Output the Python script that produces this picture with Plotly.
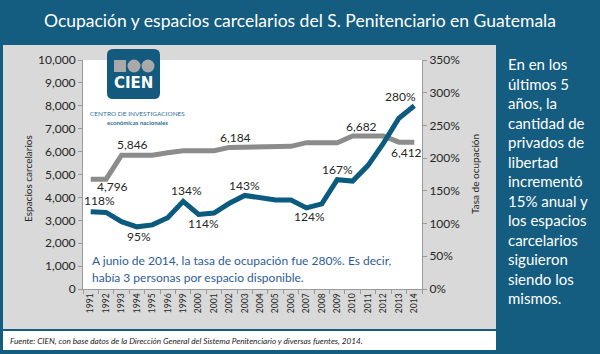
import plotly.graph_objects as go

# ---------------- data ----------------
years = ["1991", "1992", "1993", "1994", "1995", "1996", "1999", "2000", "2001", "2002", "2003",
         "2004", "2005", "2006", "2007", "2008", "2009", "2010", "2011", "2012", "2013", "2014"]
espacios = [4796, 4796, 5846, 5846, 5846, 5950, 6040, 6040, 6040, 6184, 6184,
            6184, 6184, 6230, 6390, 6390, 6390, 6682, 6682, 6682, 6412, 6412]
tasa = [118, 117, 103, 95, 98, 109, 134, 114, 116, 131, 143,
        140, 136, 136, 124, 130, 167, 165, 189, 223, 261, 280]

left_ticks = list(range(0, 10001, 1000))
right_ticks = list(range(0, 351, 50))
right_ticktext = [f"{v}%" for v in right_ticks]

# labelled points: (index, xshift, yshift)
esp_labels = [(1, 6, -7), (2, 11, 11), (9, 6, 10), (17, 9, 9), (21, -8, -10)]
tasa_labels = [(0, 9, 11), (3, 2, -10), (6, 3, 11), (7, 5, -9), (10, 0, 10),
               (14, 3, -9), (16, 0, 10), (21, -14, 9)]

title_text = "Ocupación y espacios carcelarios del S. Penitenciario en Guatemala"
side_lines = ["En en los", "últimos 5", "años, la", "cantidad de", "privados de", "libertad",
              "incrementó", "15% anual y", "los espacios", "carcelarios", "siguieron",
              "siendo los", "mismos."]
note_lines = ["A junio de 2014, la tasa de ocupación fue 280%. Es decir,",
              "había 3 personas por espacio disponible."]
footer_text = ("Fuente: CIEN, con base datos de la Dirección General del Sistema "
               "Penitenciario y diversas fuentes, 2014.")

# ---------------- geometry helpers ----------------
W, H = 600, 354
L, R, T, B = 83, 422, 60, 289


def fx(px):
    return (px - L) / (R - L)


def fy(py):
    return (B - py) / (B - T)


BG_BLUE = "#145c80"
LINE_BLUE = "#0b5a80"
GRAY_LINE = "#8c8c8c"
TXT = "#262626"
FONT = "Lato"

idx = list(range(len(years)))

fig = go.Figure()
fig.add_trace(go.Scatter(x=years, y=espacios, mode="lines", yaxis="y",
                         line=dict(color=GRAY_LINE, width=5), hoverinfo="skip",
                         showlegend=False))
fig.add_trace(go.Scatter(x=years, y=tasa, mode="lines", yaxis="y2",
                         line=dict(color=LINE_BLUE, width=5), hoverinfo="skip",
                         showlegend=False))

shapes = []
# gray panel, white plot area, white footer
shapes.append(dict(type="rect", xref="paper", yref="paper", x0=fx(3), x1=fx(496),
                   y0=fy(329), y1=fy(45), fillcolor="#d9d9d9", line=dict(width=0), layer="below"))
shapes.append(dict(type="rect", xref="paper", yref="paper", x0=0, x1=1, y0=0, y1=1,
                   fillcolor="white", line=dict(width=0), layer="below"))
shapes.append(dict(type="rect", xref="paper", yref="paper", x0=fx(3), x1=fx(496),
                   y0=fy(350), y1=fy(331), fillcolor="white", line=dict(width=0), layer="below"))

# logo: rounded rectangle
x0, x1, y0, y1, r = 107, 160, 49, 99, 6
path = (f"M {fx(x0+r)},{fy(y0)} L {fx(x1-r)},{fy(y0)} Q {fx(x1)},{fy(y0)} {fx(x1)},{fy(y0+r)} "
        f"L {fx(x1)},{fy(y1-r)} Q {fx(x1)},{fy(y1)} {fx(x1-r)},{fy(y1)} "
        f"L {fx(x0+r)},{fy(y1)} Q {fx(x0)},{fy(y1)} {fx(x0)},{fy(y1-r)} "
        f"L {fx(x0)},{fy(y0+r)} Q {fx(x0)},{fy(y0)} {fx(x0+r)},{fy(y0)} Z")
shapes.append(dict(type="path", xref="paper", yref="paper", path=path,
                   fillcolor="#135a7e", line=dict(width=0), layer="above"))
shapes.append(dict(type="rect", xref="paper", yref="paper", x0=fx(114), x1=fx(126),
                   y0=fy(72), y1=fy(60), fillcolor="#a9a9a9", line=dict(width=0), layer="above"))
for cx in (134, 148):
    shapes.append(dict(type="circle", xref="paper", yref="paper", x0=fx(cx-6.5), x1=fx(cx+6.5),
                       y0=fy(72.5), y1=fy(59.5), fillcolor="#a9a9a9", line=dict(width=0),
                       layer="above"))

ann = []


def add_text(px, py, text, size, color, xanchor="center", angle=0, family=FONT, align="center"):
    ann.append(dict(xref="paper", yref="paper", x=fx(px), y=fy(py), text=text,
                    showarrow=False, xanchor=xanchor, yanchor="middle", textangle=angle,
                    align=align, font=dict(family=family, size=size, color=color)))


add_text(300, 20, title_text, 17.5, "white")
add_text(506, 181, "<br>".join(side_lines), 15, "white", xanchor="left", align="left")
add_text(28, 178, "Espacios carcelarios", 10, TXT, angle=-90)
add_text(475, 174, "Tasa de ocupación", 10, TXT, angle=-90)
add_text(90, 260, note_lines[0], 12, "#2e5c9a", xanchor="left")
add_text(90, 277, note_lines[1], 12, "#2e5c9a", xanchor="left")
add_text(8, 341, "<i>" + footer_text + "</i>", 8.2, "#1a1a1a", xanchor="left")
add_text(133, 83, "<b>CIEN</b>", 15, "white", family="DejaVu Sans")
add_text(137, 113, "CENTRO DE INVESTIGACIONES", 6.5, "#2c6e9a")
add_text(137, 122, "<b>económicas nacionales</b>", 6, "#2c6e9a")

# data labels (x given as category index on the category axis)
for i, xs, ys in esp_labels:
    ann.append(dict(xref="x", yref="y", x=idx[i], y=espacios[i], text=f"{espacios[i]:,}",
                    showarrow=False, xshift=xs, yshift=ys, xanchor="center", yanchor="middle",
                    font=dict(family=FONT, size=12, color=TXT)))
for i, xs, ys in tasa_labels:
    ann.append(dict(xref="x", yref="y2", x=idx[i], y=tasa[i], text=f"{tasa[i]}%",
                    showarrow=False, xshift=xs, yshift=ys, xanchor="center", yanchor="middle",
                    font=dict(family=FONT, size=12, color=TXT)))

axis_line = "#9a9a9a"
fig.update_layout(
    width=W, height=H, autosize=False,
    margin=dict(l=L, r=W - R, t=T, b=H - B, pad=0),
    paper_bgcolor=BG_BLUE, plot_bgcolor="rgba(0,0,0,0)",
    font=dict(family=FONT, color=TXT),
    showlegend=False,
    shapes=shapes, annotations=ann,
    xaxis=dict(type="category", categoryorder="array", categoryarray=years,
               range=[-0.5, len(years) - 0.5], tickangle=-90, ticks="outside",
               tickson="boundaries", ticklen=4, tickcolor=axis_line, showline=True,
               linecolor=axis_line, linewidth=1, showgrid=False, zeroline=False,
               tickfont=dict(family=FONT, size=8.5, color=TXT)),
    yaxis=dict(range=[0, 10000], tickvals=left_ticks, tickformat=",", ticks="outside",
               ticklen=4, tickcolor=axis_line, showline=True, linecolor=axis_line,
               showgrid=False, zeroline=False, tickfont=dict(family=FONT, size=12, color=TXT)),
    yaxis2=dict(range=[0, 350], tickmode="array", tickvals=right_ticks, ticktext=right_ticktext,
                overlaying="y", side="right", ticks="outside", ticklen=4, tickcolor=axis_line,
                showline=True, linecolor=axis_line, showgrid=False, zeroline=False,
                tickfont=dict(family=FONT, size=12, color=TXT)),
)

fig.write_html("out.html")
